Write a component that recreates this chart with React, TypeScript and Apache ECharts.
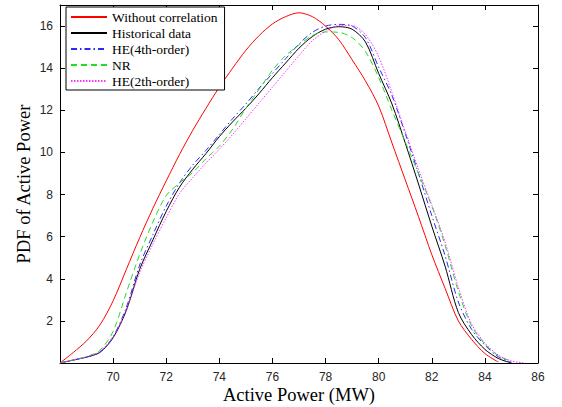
import React, { useEffect, useRef } from "react";
import * as echarts from "echarts";

const xGrid = [
  68, 68.5, 69, 69.5, 70, 70.5, 71, 71.5, 72, 72.5, 73, 73.5, 74, 74.5, 75, 75.5, 76, 76.5,
  77, 77.5, 78, 78.5, 79, 79.5, 80, 80.5, 81, 81.5, 82, 82.5, 83, 83.5, 84, 84.5, 85, 85.5,
];

const withoutCorrelation = [
  0, 0.5, 1.05, 1.8, 2.95, 4.45, 5.95, 7.35, 8.65, 9.9, 11.05, 12.1, 13.1, 14.0, 14.85, 15.55, 16.1, 16.45,
  16.63, 16.45, 16.0, 15.35, 14.4, 13.4, 12.2, 10.45, 8.7, 6.95, 5.15, 3.55, 2.0, 1.12, 0.45, 0.05, null, null,
];

const historicalData = [
  0, 0.14, 0.28, 0.5, 1.2, 2.5, 4.45, 5.85, 7.2, 8.35, 9.2, 9.95, 10.75, 11.45, 12.1, 12.8, 13.55, 14.25,
  14.95, 15.5, 15.85, 15.97, 15.85, 15.25, 13.75, 12.3, 10.45, 8.5, 6.5, 4.6, 2.4, 1.35, 0.65, 0.22, 0, null,
];

const he4th = [
  0, 0.14, 0.28, 0.52, 1.25, 2.65, 4.65, 6.1, 7.45, 8.55, 9.4, 10.1, 10.85, 11.6, 12.3, 13.05, 13.75, 14.45,
  15.15, 15.7, 16.0, 16.08, 16.0, 15.45, 14.05, 12.7, 10.9, 9.0, 7.0, 5.1, 2.9, 1.6, 0.85, 0.3, 0.03, null,
];

const nr = [
  0, 0.15, 0.3, 0.6, 1.5, 3.35, 5.15, 6.7, 7.95, 8.55, 9.05, 9.7, 10.3, 11.1, 12.1, 13.0, 13.9, 14.6,
  15.1, 15.55, 15.72, 15.7, 15.45, 14.8, 13.55, 12.0, 10.5, 9.0, 7.45, 5.6, 3.4, 1.75, 0.9, 0.35, 0.08, null,
];

const he2th = [
  0, 0.15, 0.3, 0.55, 1.25, 2.55, 4.3, 5.65, 6.9, 8.05, 8.8, 9.5, 10.15, 10.85, 11.6, 12.35, 13.1, 13.85,
  14.6, 15.3, 15.75, 16.02, 16.02, 15.6, 14.55, 12.85, 11.0, 9.2, 7.5, 5.75, 3.6, 1.85, 0.95, 0.38, 0.1, 0,
];

const seriesNames = ["Without correlation", "Historical data", "HE(4th-order)", "NR", "HE(2th-order)"];
const seriesValues = [withoutCorrelation, historicalData, he4th, nr, he2th];
const seriesColors = ["#ff0000", "#000000", "#2a2aff", "#22dd22", "#ff33ff"];
const seriesDash: any[] = ["solid", "solid", [6, 3, 1.5, 3], [6, 4], [1.5, 1.5]];

export default function App() {
  const ref = useRef<HTMLDivElement>(null);
  useEffect(() => {
    if (!ref.current) return;
    const chart = echarts.init(ref.current, undefined, { renderer: "svg" });
    const tickFont = { fontFamily: "Liberation Sans, Arial, sans-serif", fontSize: 12, color: "#262626" };
    const serif = "Liberation Serif, Times New Roman, serif";
    const series = seriesNames.map((name, i) => ({
      name,
      type: "line",
      data: xGrid.map((x, j) => [x, seriesValues[i][j]]),
      showSymbol: false,
      symbol: "none",
      smooth: 0.3,
      connectNulls: false,
      lineStyle: { color: seriesColors[i], width: 1, type: seriesDash[i] },
      itemStyle: { color: seriesColors[i] },
      emphasis: { disabled: true },
    }));
    chart.setOption({
      animation: false,
      backgroundColor: "#ffffff",
      grid: { left: 60, right: 24, top: 5, bottom: 44, containLabel: false, outerBoundsMode: "none" },
      legend: {
        orient: "vertical",
        left: 66,
        top: 7,
        padding: [3, 7, 2, 4],
        itemWidth: 36,
        itemHeight: 14,
        itemGap: 2,
        borderColor: "#000",
        borderWidth: 1,
        backgroundColor: "#fff",
        data: seriesNames,
        itemStyle: { opacity: 0 },
        textStyle: { fontFamily: serif, fontSize: 13.5, color: "#000" },
      },
      xAxis: [
        {
          type: "value",
          min: 68,
          max: 86,
          interval: 2,
          name: "Active Power (MW)",
          nameLocation: "middle",
          nameGap: 22,
          nameMoveOverlap: false,
          nameTextStyle: { fontFamily: serif, fontSize: 18.5, color: "#000", verticalAlign: "top" },
          axisLine: { show: true, onZero: false, lineStyle: { color: "#000", width: 1 } },
          axisTick: { show: true, inside: true, length: 5, lineStyle: { color: "#000" } },
          axisLabel: { ...tickFont, margin: 8, showMinLabel: false },
          splitLine: { show: false },
        },
        {
          type: "value",
          position: "top",
          min: 68,
          max: 86,
          interval: 2,
          axisLine: { show: true, onZero: false, lineStyle: { color: "#000", width: 1 } },
          axisTick: { show: true, inside: true, length: 5, lineStyle: { color: "#000" } },
          axisLabel: { show: false },
          splitLine: { show: false },
        },
      ],
      yAxis: [
        {
          type: "value",
          min: 0,
          max: 17,
          interval: 2,
          name: "PDF of Active Power",
          nameLocation: "middle",
          nameGap: 27,
          nameMoveOverlap: false,
          nameTextStyle: { fontFamily: serif, fontSize: 18.5, color: "#000" },
          axisLine: { show: true, onZero: false, lineStyle: { color: "#000", width: 1 } },
          axisTick: { show: true, inside: true, length: 5, lineStyle: { color: "#000" } },
          axisLabel: { ...tickFont, margin: 7, showMinLabel: false, showMaxLabel: false },
          splitLine: { show: false },
        },
        {
          type: "value",
          position: "right",
          min: 0,
          max: 17,
          interval: 2,
          axisLine: { show: true, onZero: false, lineStyle: { color: "#000", width: 1 } },
          axisTick: { show: true, inside: true, length: 5, lineStyle: { color: "#000" } },
          axisLabel: { show: false },
          splitLine: { show: false },
        },
      ],
      series,
    });
    return () => chart.dispose();
  }, []);
  return (
    <div
      ref={ref}
      style={{ position: "absolute", left: 0, top: 0, width: 562, height: 407, background: "#fff" }}
    />
  );
}
